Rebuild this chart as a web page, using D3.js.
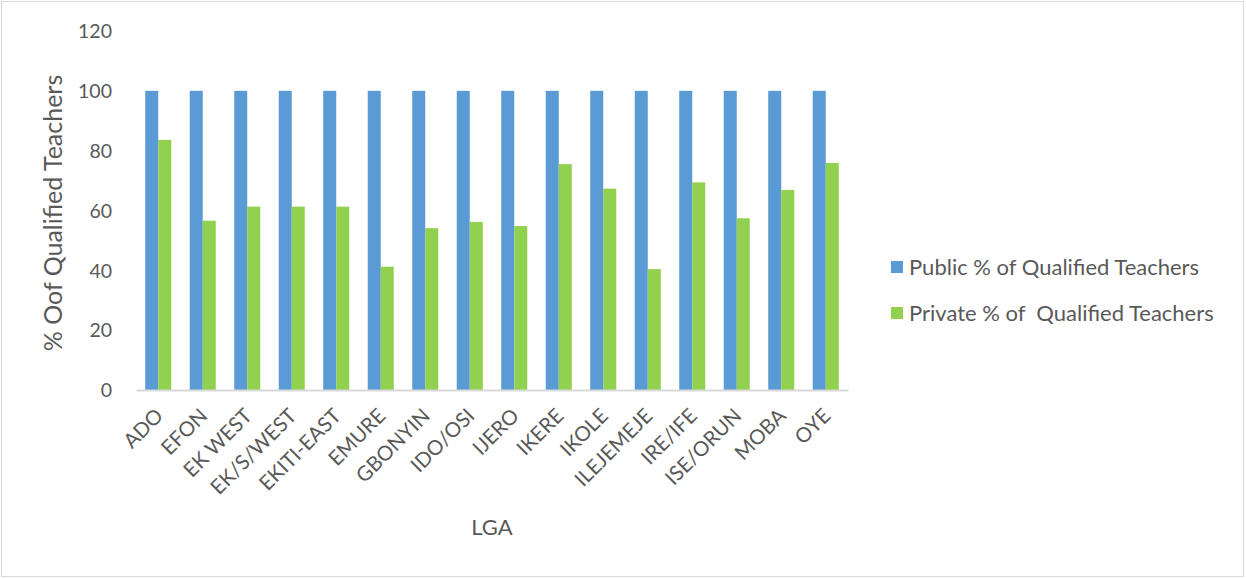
<!DOCTYPE html>
<html><head><meta charset="utf-8">
<script src="https://cdn.jsdelivr.net/npm/d3@7"></script>
<style>body{margin:0;background:#fff}svg text{font-family:Lato,"Open Sans",sans-serif;fill:#595959;white-space:pre}</style>
</head><body><svg id="c" width="1246" height="579"></svg>
<script>
const categories=["ADO","EFON","EK WEST","EK/S/WEST","EKITI-EAST","EMURE","GBONYIN","IDO/OSI","IJERO","IKERE","IKOLE","ILEJEMEJE","IRE/IFE","ISE/ORUN","MOBA","OYE"];
const publicVals=[100,100,100,100,100,100,100,100,100,100,100,100,100,100,100,100];
const privateVals=[83.6,56.6,61.3,61.3,61.3,41.2,54.1,56.2,54.8,75.5,67.3,40.4,69.4,57.4,66.9,75.9];
const seriesNames=["Public % of Qualified Teachers","Private % of  Qualified Teachers"];
const colors=["#5b9bd5","#92d050"];
const yTicks=[0,20,40,60,80,100,120];

const svg=d3.select("#c");
svg.append("rect").attr("x",1.5).attr("y",1.5).attr("width",1242).attr("height",575).attr("fill","#fff").attr("stroke","#d9d9d9");
const x=d3.scaleBand().domain(categories).range([136,848]).paddingInner(0.415).paddingOuter(0.2075);
const x1=d3.scaleBand().domain([0,1]).range([0,x.bandwidth()]);
const y=d3.scaleLinear().domain([0,120]).range([390,31]);

const g=svg.append("g");
categories.forEach((c,i)=>{
  [publicVals[i],privateVals[i]].forEach((v,k)=>{
    g.append("rect").attr("x",x(c)+x1(k)).attr("width",x1.bandwidth()).attr("y",y(v)).attr("height",y(0)-y(v)).attr("fill",colors[k]);
  });
});
// y axis labels
const ya=svg.append("g").attr("transform","translate(112,0)").call(d3.axisLeft(y).tickValues(yTicks).tickSize(0).tickPadding(0));
ya.select(".domain").remove();
ya.selectAll("text").attr("font-size",19.5).attr("fill","#595959").attr("dy","0.35em");
// x axis
const xa=svg.append("g").attr("transform","translate(0,390)").call(d3.axisBottom(x).tickSize(0).tickPadding(0));
xa.select(".domain").attr("stroke","#d9d9d9").attr("stroke-width",2);
xa.selectAll("text").attr("font-size",20.5).attr("fill","#595959").attr("text-anchor","end")
  .attr("transform","translate(1,22) rotate(-45)").attr("dy","0.35em");
// titles
svg.append("text").attr("transform","translate(62,213) rotate(-90)").attr("text-anchor","middle").attr("font-size",25).text("% Oof Qualified Teachers");
svg.append("text").attr("x",492).attr("y",535).attr("text-anchor","middle").attr("font-size",22).text("LGA");
// legend
seriesNames.forEach((n,k)=>{
  const ly=267+k*46;
  svg.append("rect").attr("x",891).attr("y",ly-6).attr("width",12).attr("height",12).attr("fill",colors[k]);
  svg.append("text").attr("x",909).attr("y",ly).attr("dy","0.35em").attr("font-size",22).text(n);
});
</script></body></html>
